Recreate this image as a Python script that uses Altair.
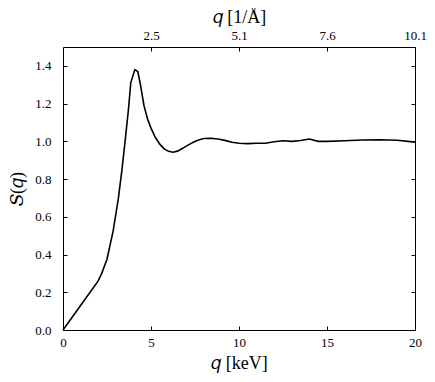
import altair as alt
import pandas as pd

# Data
q_kev = [0, 1.0, 2.0, 2.2, 2.5, 2.85, 3.15, 3.35, 3.55, 3.72,
         3.85, 4.08, 4.25, 4.4, 4.6, 4.8, 5.0, 5.25, 5.5, 5.75,
         6.0, 6.25, 6.5, 6.8, 7.1, 7.4, 7.7, 8.0, 8.4, 8.8,
         9.2, 9.6, 10.0, 10.5, 11.0, 11.5, 12.0, 12.5, 13.0, 13.5,
         14.0, 14.5, 15.0, 16.0, 17.0, 18.0, 19.0, 20.0]
s_q = [0, 0.13, 0.26, 0.30, 0.375, 0.525, 0.70, 0.85, 1.02, 1.17,
       1.31, 1.38, 1.37, 1.30, 1.19, 1.12, 1.07, 1.02, 0.985, 0.96,
       0.947, 0.942, 0.948, 0.963, 0.98, 0.995, 1.007, 1.015, 1.016, 1.012,
       1.005, 0.995, 0.99, 0.988, 0.99, 0.99, 0.998, 1.003, 1.0, 1.004,
       1.012, 1.0, 1.0, 1.003, 1.007, 1.008, 1.006, 0.996]

x_ticks = [0, 5, 10, 15, 20]
y_ticks = [0.0, 0.2, 0.4, 0.6, 0.8, 1.0, 1.2, 1.4]
top_tick_pos = [5, 10, 15, 20]
top_tick_labels = ["2.5", "5.1", "7.6", "10.1"]

df = pd.DataFrame({"x": q_kev, "y": s_q})

FONT = "Liberation Serif"
xs = alt.Scale(domain=[0, 20], nice=False, zero=False)
ys = alt.Scale(domain=[0, 1.5], nice=False, zero=False)

top_expr = " : ".join(
    f"datum.value == {p} ? '{l}'" for p, l in zip(top_tick_pos, top_tick_labels)
) + " : ''"

common = dict(grid=False, domain=False, labelFont=FONT, titleFont=FONT,
              labelColor="black", titleColor="black", tickColor="black",
              labelFlush=False, labelOverlap=False)

base = alt.Chart(df)

line = base.mark_line(color="black", strokeWidth=1.6).encode(
    x=alt.X("x:Q", scale=xs, axis=alt.Axis(
        orient="bottom", values=x_ticks, format="d", ticks=False,
        labelPadding=6, labelFontSize=13, title="𝑞 [keV]",
        titleFontSize=18, titleFontWeight="normal", titlePadding=5, **common)),
    y=alt.Y("y:Q", scale=ys, axis=alt.Axis(
        orient="left", values=y_ticks, format=".1f", ticks=False,
        labelPadding=12, labelFontSize=13, title="𝑆(𝑞)",
        titleFontSize=18, titleFontWeight="normal", titlePadding=8, **common)),
)

ticks_bl = base.mark_line(opacity=0).encode(
    x=alt.X("x:Q", scale=xs, axis=alt.Axis(
        orient="bottom", values=x_ticks, offset=-4, tickSize=4, labels=False,
        title=None, **common)),
    y=alt.Y("y:Q", scale=ys, axis=alt.Axis(
        orient="left", values=y_ticks, offset=-4, tickSize=4, labels=False,
        title=None, **common)),
)

ticks_tr = base.mark_line(opacity=0).encode(
    x=alt.X("x:Q", scale=xs, axis=alt.Axis(
        orient="top", values=top_tick_pos, labelExpr=top_expr, ticks=False,
        labelPadding=5, labelFontSize=13, title="𝑞 [1/Å]",
        titleFontSize=18, titleFontWeight="normal", titlePadding=3, **common)),
    y=alt.Y("y:Q", scale=ys, axis=alt.Axis(
        orient="right", values=y_ticks, offset=-4, tickSize=4, labels=False,
        title=None, **common)),
)

ticks_t = base.mark_line(opacity=0).encode(
    x=alt.X("x:Q", scale=xs, axis=alt.Axis(
        orient="top", values=top_tick_pos, offset=-4, tickSize=4, labels=False,
        title=None, **common)),
    y=alt.Y("y:Q", scale=ys, axis=None),
)

chart = alt.layer(line, ticks_bl, ticks_tr, ticks_t).resolve_axis(
    x="independent", y="independent"
).properties(
    width=352, height=283,
    autosize=alt.AutoSizeParams(type="none"),
    padding={"left": 55, "top": 39, "right": 12, "bottom": 44},
).configure(font=FONT).configure_axis(
    labelFont=FONT, titleFont=FONT
).configure_view(stroke="black", strokeWidth=1)

chart.save("out.html", embed_options={"renderer": "svg", "actions": False})
